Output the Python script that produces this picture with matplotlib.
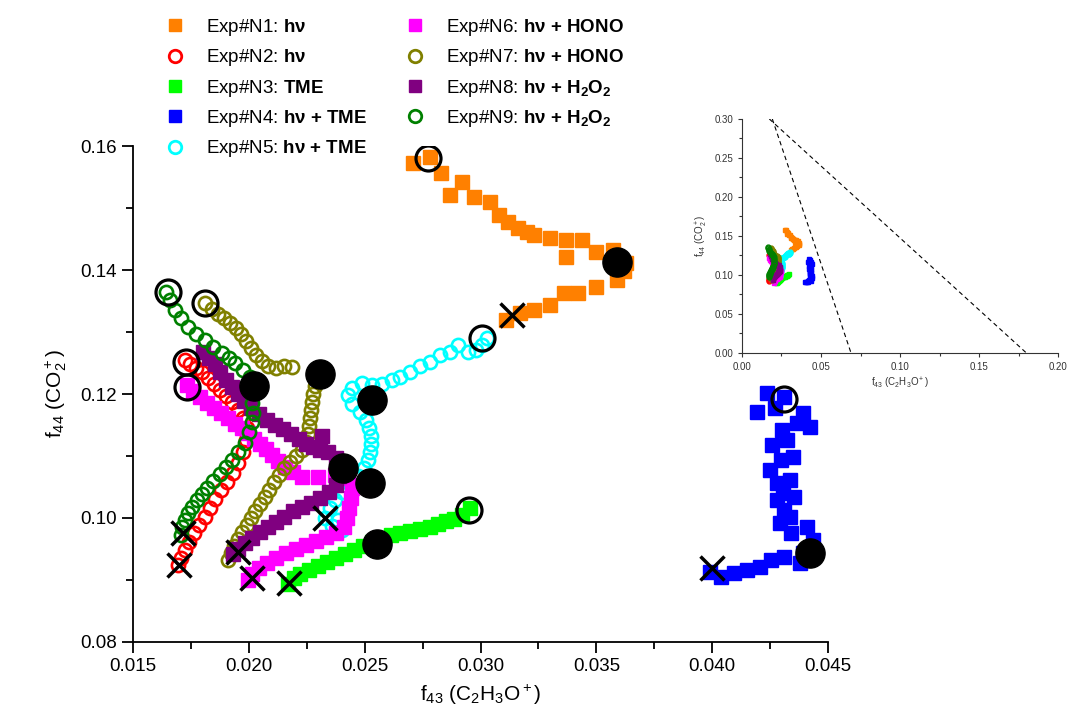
#!/usr/bin/env python3
# f44 vs f43 trajectories for the chamber experiments N1-N9, with an inset
# showing the full triangle space.

import numpy as np
import matplotlib
matplotlib.use("Agg")
import matplotlib.pyplot as plt
from matplotlib.lines import Line2D

plt.rcParams['font.family'] = ['Liberation Sans', 'DejaVu Sans']
plt.rcParams['mathtext.fontset'] = 'custom'
plt.rcParams['mathtext.rm'] = 'Liberation Sans'
plt.rcParams['mathtext.it'] = 'Liberation Sans'
plt.rcParams['mathtext.bf'] = 'Liberation Sans:bold'

# ==================== data ====================
n1_x = [0.0271, 0.0278, 0.0283, 0.0292, 0.0287, 0.0297, 0.0304, 0.0308, 0.0312, 0.0316,
        0.0320, 0.0323, 0.0330, 0.0337, 0.0344, 0.0337, 0.0350, 0.0357, 0.0363, 0.0362,
        0.0359, 0.0350, 0.0342, 0.0336, 0.0330, 0.0323, 0.0317, 0.0311]
n1_y = [0.1573, 0.1582, 0.1556, 0.1542, 0.1521, 0.1518, 0.1510, 0.1489, 0.1478, 0.1468,
        0.1462, 0.1456, 0.1452, 0.1448, 0.1448, 0.1421, 0.1429, 0.1432, 0.1411, 0.1398,
        0.1384, 0.1373, 0.1363, 0.1363, 0.1344, 0.1335, 0.1331, 0.1319]

n2_x = [0.01724, 0.01746, 0.01772, 0.01798, 0.01824, 0.01850, 0.01876, 0.01901, 0.01927,
        0.01953, 0.01975, 0.01992, 0.01988, 0.01975, 0.01953, 0.01932, 0.01906, 0.01880,
        0.01854, 0.01832, 0.01811, 0.01785, 0.01763, 0.01742, 0.01724, 0.01707, 0.01694]
n2_y = [0.1255, 0.1248, 0.1242, 0.1236, 0.1226, 0.1216, 0.1206, 0.1197, 0.1187,
        0.1174, 0.1161, 0.1145, 0.1126, 0.1106, 0.1089, 0.1073, 0.1058, 0.1045,
        0.1031, 0.1016, 0.1002, 0.0989, 0.0976, 0.0961, 0.0948, 0.0935, 0.0924]

n3_x = [0.02955, 0.02920, 0.02886, 0.02851, 0.02817, 0.02782, 0.02739, 0.02696, 0.02653,
        0.02614, 0.02575, 0.02532, 0.02493, 0.02454, 0.02415, 0.02376, 0.02338, 0.02299,
        0.02260, 0.02221, 0.02195, 0.02169]
n3_y = [0.1016, 0.1005, 0.0998, 0.0995, 0.0990, 0.0985, 0.0982, 0.0979, 0.0976,
        0.0973, 0.0968, 0.0961, 0.0955, 0.0948, 0.0942, 0.0935, 0.0929, 0.0923,
        0.0916, 0.0910, 0.0903, 0.0894]

n4_x = [0.04237, 0.04310, 0.04194, 0.04271, 0.04392, 0.04423, 0.04366, 0.04302, 0.04323,
        0.04259, 0.04349, 0.04297, 0.04250, 0.04336, 0.04280, 0.04306, 0.04354, 0.04280,
        0.04310, 0.04336, 0.04293, 0.04410, 0.04341, 0.04436, 0.04392, 0.04379, 0.04310,
        0.04254, 0.04207, 0.04151, 0.04094, 0.04038, 0.03991]
n4_y = [0.1202, 0.1195, 0.1171, 0.1177, 0.1169, 0.1147, 0.1153, 0.1142, 0.1126,
        0.1118, 0.1098, 0.1094, 0.1077, 0.1061, 0.1056, 0.1040, 0.1034, 0.1029,
        0.1013, 0.1002, 0.0992, 0.0985, 0.0976, 0.0965, 0.0944, 0.0927, 0.0937,
        0.0932, 0.0921, 0.0916, 0.0911, 0.0905, 0.0913]

n5_x = [0.03028, 0.03007, 0.02981, 0.02946, 0.02903, 0.02868, 0.02825, 0.02782, 0.02739,
        0.02696, 0.02653, 0.02618, 0.02575, 0.02532, 0.02489, 0.02445, 0.02428, 0.02445,
        0.02480, 0.02506, 0.02519, 0.02527, 0.02527, 0.02523, 0.02514, 0.02497, 0.02471,
        0.02437, 0.02402, 0.02372, 0.02350, 0.02385, 0.02402, 0.02359, 0.02329]
n5_y = [0.1290, 0.1279, 0.1271, 0.1268, 0.1279, 0.1268, 0.1263, 0.1252, 0.1245,
        0.1236, 0.1227, 0.1223, 0.1216, 0.1215, 0.1218, 0.1210, 0.1198, 0.1184,
        0.1171, 0.1158, 0.1145, 0.1132, 0.1119, 0.1106, 0.1094, 0.1081, 0.1068,
        0.1055, 0.1042, 0.1029, 0.1016, 0.0997, 0.0981, 0.0987, 0.1000]

n6_x = [0.01733, 0.01759, 0.01789, 0.01819, 0.01850, 0.01880, 0.01910, 0.01940, 0.01971,
        0.01996, 0.02022, 0.02048, 0.02074, 0.02100, 0.02126, 0.02156, 0.02191, 0.02230,
        0.02299, 0.02372, 0.02428, 0.02445, 0.02441, 0.02432, 0.02424, 0.02411, 0.02376,
        0.02333, 0.02290, 0.02247, 0.02204, 0.02160, 0.02117, 0.02078, 0.02044, 0.02014,
        0.01996]
n6_y = [0.1215, 0.1205, 0.1195, 0.1186, 0.1177, 0.1169, 0.1161, 0.1152, 0.1145,
        0.1137, 0.1127, 0.1119, 0.1111, 0.1102, 0.1092, 0.1082, 0.1074, 0.1066,
        0.1066, 0.1069, 0.1065, 0.1048, 0.1032, 0.1016, 0.1000, 0.0985, 0.0976,
        0.0969, 0.0963, 0.0956, 0.0950, 0.0944, 0.0935, 0.0927, 0.0919, 0.0910,
        0.0900]

n7_x = [0.01811, 0.01841, 0.01867, 0.01893, 0.01919, 0.01945, 0.01966, 0.01988, 0.02009,
        0.02031, 0.02057, 0.02083, 0.02117, 0.02152, 0.02186, 0.02299, 0.02286, 0.02277,
        0.02273, 0.02268, 0.02264, 0.02260, 0.02255, 0.02247, 0.02230, 0.02204, 0.02178,
        0.02152, 0.02130, 0.02109, 0.02087, 0.02070, 0.02048, 0.02027, 0.02009, 0.01992,
        0.01971, 0.01953, 0.01936, 0.01923, 0.01910]
n7_y = [0.1347, 0.1337, 0.1329, 0.1323, 0.1315, 0.1306, 0.1297, 0.1286, 0.1274,
        0.1263, 0.1253, 0.1245, 0.1242, 0.1245, 0.1244, 0.1226, 0.1213, 0.1200,
        0.1187, 0.1174, 0.1161, 0.1148, 0.1136, 0.1123, 0.1110, 0.1100, 0.1090,
        0.1081, 0.1069, 0.1058, 0.1045, 0.1034, 0.1023, 0.1011, 0.1000, 0.0989,
        0.0977, 0.0966, 0.0955, 0.0944, 0.0932]

n8_x = [0.01802, 0.01828, 0.01854, 0.01876, 0.01901, 0.01927, 0.01953, 0.01979, 0.02009,
        0.02044, 0.02078, 0.02113, 0.02148, 0.02182, 0.02217, 0.02247, 0.02277, 0.02316,
        0.02307, 0.02342, 0.02376, 0.02394, 0.02389, 0.02376, 0.02346, 0.02307, 0.02268,
        0.02230, 0.02191, 0.02152, 0.02117, 0.02083, 0.02048, 0.02014, 0.01984, 0.01953,
        0.01932]
n8_y = [0.1268, 0.1258, 0.1248, 0.1236, 0.1223, 0.1211, 0.1200, 0.1189, 0.1177,
        0.1168, 0.1158, 0.1150, 0.1144, 0.1136, 0.1127, 0.1119, 0.1115, 0.1132,
        0.1110, 0.1106, 0.1097, 0.1084, 0.1068, 0.1053, 0.1042, 0.1032, 0.1024,
        0.1018, 0.1011, 0.1002, 0.0994, 0.0985, 0.0977, 0.0968, 0.0960, 0.0950,
        0.0942]

n9_x = [0.01642, 0.01660, 0.01681, 0.01707, 0.01737, 0.01772, 0.01811, 0.01845, 0.01884,
        0.01914, 0.01940, 0.01975, 0.02005, 0.02018, 0.02014, 0.02018, 0.02014, 0.02001,
        0.01984, 0.01953, 0.01927, 0.01901, 0.01876, 0.01845, 0.01819, 0.01798, 0.01776,
        0.01755, 0.01737, 0.01724, 0.01712, 0.01707]
n9_y = [0.1365, 0.1352, 0.1335, 0.1323, 0.1308, 0.1297, 0.1287, 0.1276, 0.1266,
        0.1258, 0.1250, 0.1239, 0.1227, 0.1206, 0.1186, 0.1169, 0.1155, 0.1139,
        0.1121, 0.1106, 0.1094, 0.1082, 0.1071, 0.1060, 0.1048, 0.1039, 0.1029,
        0.1018, 0.1008, 0.0997, 0.0985, 0.0973]

# start of each run (open circle), turning point (black dot), end (cross)
start_x = [0.02774, 0.01729, 0.02951, 0.04310, 0.03007, 0.01733, 0.01811, 0.01651]
start_y = [0.1581, 0.1252, 0.1013, 0.1192, 0.1290, 0.1211, 0.1347, 0.1365]
turn_x = [0.03589, 0.02553, 0.04423, 0.02532, 0.02523, 0.02307, 0.02407, 0.02022]
turn_y = [0.1413, 0.0958, 0.0944, 0.1190, 0.1056, 0.1232, 0.1081, 0.1213]
end_x = [0.03136, 0.01699, 0.02173, 0.04000, 0.02329, 0.02014, 0.01953, 0.01716]
end_y = [0.1327, 0.0924, 0.0895, 0.0920, 0.1000, 0.0903, 0.0945, 0.0976]

labels = [r'Exp#N1: $\mathbf{hν}$',
          r'Exp#N2: $\mathbf{hν}$',
          r'Exp#N3: $\mathbf{TME}$',
          r'Exp#N4: $\mathbf{hν}$ $\mathbf{+}$ $\mathbf{TME}$',
          r'Exp#N5: $\mathbf{hν}$ $\mathbf{+}$ $\mathbf{TME}$',
          r'Exp#N6: $\mathbf{hν}$ $\mathbf{+}$ $\mathbf{HONO}$',
          r'Exp#N7: $\mathbf{hν}$ $\mathbf{+}$ $\mathbf{HONO}$',
          r'Exp#N8: $\mathbf{hν}$ $\mathbf{+}$ $\mathbf{H_2O_2}$',
          r'Exp#N9: $\mathbf{hν}$ $\mathbf{+}$ $\mathbf{H_2O_2}$']
colors = ['#ff8000', '#ff0000', '#00ff00', '#0000ff', '#00ffff',
          '#ff00ff', '#808000', '#800080', '#008000']
filled = [True, False, True, True, False, True, False, True, False]

# Ng et al. triangle edges
tri_left_x = [0.0192, 0.069]
tri_left_y = [0.30, 0.0]
tri_right_x = [0.0173, 0.180]
tri_right_y = [0.30, 0.0]

series = [(n1_x, n1_y), (n2_x, n2_y), (n3_x, n3_y), (n4_x, n4_y), (n5_x, n5_y),
          (n6_x, n6_y), (n7_x, n7_y), (n8_x, n8_y), (n9_x, n9_y)]

# ==================== plot ====================
fig = plt.figure(figsize=(10.67, 7.15), dpi=100)
ax = fig.add_axes([0.1247, 0.1021, 0.6513, 0.6937])


def draw(a, ms, mew):
    for (x, y), c, f in zip(series, colors, filled):
        if f:
            a.plot(x, y, 's', color=c, ms=ms, mec=c, ls='none')
        else:
            a.plot(x, y, 'o', mfc='none', mec=c, ms=ms, mew=mew, ls='none')


draw(ax, 9.5, 1.9)
ax.plot(start_x, start_y, 'o', mfc='none', mec='black', ms=18, mew=2.3, ls='none')
ax.plot(turn_x, turn_y, 'o', color='black', ms=21, ls='none')
ax.plot(end_x, end_y, 'x', color='black', ms=17, mew=2.5, ls='none')

ax.set_xlim(0.015, 0.045)
ax.set_ylim(0.08, 0.16)
ax.set_xticks(np.arange(0.015, 0.0451, 0.005))
ax.set_xticks(np.arange(0.0175, 0.045, 0.005), minor=True)
ax.set_yticks(np.arange(0.08, 0.161, 0.02))
ax.set_yticks(np.arange(0.09, 0.16, 0.02), minor=True)
ax.set_xticklabels(['%.3f' % v for v in np.arange(0.015, 0.0451, 0.005)])
ax.set_yticklabels(['%.2f' % v for v in np.arange(0.08, 0.161, 0.02)])
ax.tick_params(which='major', direction='out', length=8, width=1.3, labelsize=13.5)
ax.tick_params(which='minor', direction='out', length=5, width=1.3)
for s in ['top', 'right']:
    ax.spines[s].set_visible(False)
for s in ['left', 'bottom']:
    ax.spines[s].set_linewidth(1.3)
ax.set_xlabel(r'f$_{43}$ (C$_2$H$_3$O$^+$)', fontsize=15, labelpad=6)
ax.set_ylabel(r'f$_{44}$ (CO$_2^+$)', fontsize=15, labelpad=8)

handles = []
for c, f in zip(colors, filled):
    if f:
        handles.append(Line2D([], [], marker='s', color=c, ls='none', ms=9))
    else:
        handles.append(Line2D([], [], marker='o', mfc='none', mec=c, mew=2, ls='none', ms=9))
fig.legend(handles, labels, ncol=2, loc='upper left', bbox_to_anchor=(0.139, 1.0),
           frameon=False, fontsize=13.5, handlelength=1.0, handletextpad=1.2,
           columnspacing=2.0, labelspacing=0.5)

# inset
ins = fig.add_axes([0.6954, 0.5063, 0.2962, 0.3273])
draw(ins, 3.5, 1.0)
ins.plot(tri_left_x, tri_left_y, '--', color='black', lw=0.8, dashes=(4, 3))
ins.plot(tri_right_x, tri_right_y, '--', color='black', lw=0.8, dashes=(4, 3))
ins.set_xlim(0, 0.20)
ins.set_ylim(0, 0.30)
ins.set_xticks(np.arange(0, 0.201, 0.05))
ins.set_xticks(np.arange(0.025, 0.2, 0.05), minor=True)
ins.set_yticks(np.arange(0, 0.301, 0.05))
ins.set_yticks(np.arange(0.025, 0.3, 0.05), minor=True)
ins.set_xticklabels(['%.2f' % v for v in np.arange(0, 0.201, 0.05)])
ins.set_yticklabels(['%.2f' % v for v in np.arange(0, 0.301, 0.05)])
ins.tick_params(which='major', direction='out', length=3, width=0.8, labelsize=7,
                colors='#333333')
ins.tick_params(which='minor', direction='out', length=2, width=0.8, colors='#333333')
for s in ['top', 'right']:
    ins.spines[s].set_visible(False)
for s in ['left', 'bottom']:
    ins.spines[s].set_color('#333333')
    ins.spines[s].set_linewidth(0.8)
ins.set_xlabel(r'f$_{43}$ (C$_2$H$_3$O$^+$)', fontsize=7, color='#333333', labelpad=3)
ins.set_ylabel(r'f$_{44}$ (CO$_2^+$)', fontsize=7, color='#333333', labelpad=3)
ins.patch.set_alpha(0)

fig.savefig('out.png', dpi=100)
